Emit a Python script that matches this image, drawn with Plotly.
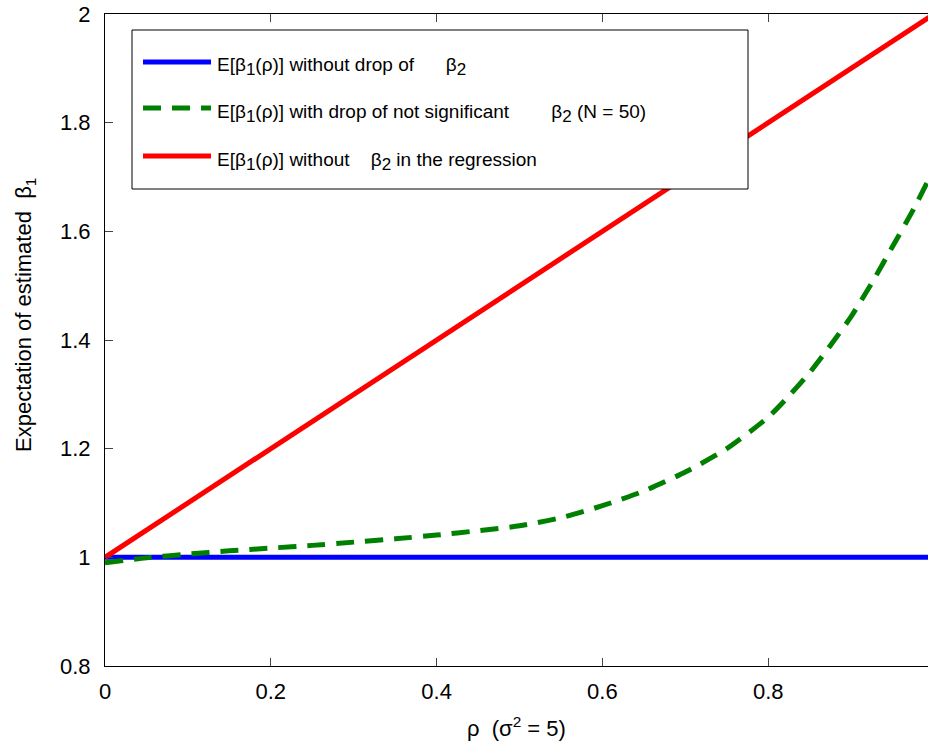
import plotly.graph_objects as go

# ---- data ----
rho = [0.0, 0.05, 0.10, 0.15, 0.20, 0.25, 0.30, 0.35, 0.40, 0.45, 0.50,
       0.55, 0.60, 0.65, 0.70, 0.75, 0.80, 0.825, 0.85, 0.875, 0.90,
       0.925, 0.95, 0.975, 1.00]
e_no_drop = [1.0] * len(rho)
e_drop_ns = [0.990, 0.999, 1.006, 1.012, 1.017, 1.022, 1.028, 1.034, 1.041,
             1.049, 1.058, 1.073, 1.095, 1.122, 1.157, 1.200, 1.258, 1.297,
             1.340, 1.390, 1.443, 1.505, 1.572, 1.640, 1.715]
e_without = [1.00, 1.05, 1.10, 1.15, 1.20, 1.25, 1.30, 1.35, 1.40, 1.45, 1.50,
             1.55, 1.60, 1.65, 1.70, 1.75, 1.80, 1.825, 1.85, 1.875, 1.90,
             1.925, 1.95, 1.975, 2.00]

SUB1 = "<sub><span style='font-size:17px'>1</span></sub>"
SUB2 = "<sub><span style='font-size:17px'>2</span></sub>"
legend_labels = [
    f"E[β{SUB1}(ρ)] without drop of      β{SUB2}",
    f"E[β{SUB1}(ρ)] with drop of not significant        β{SUB2} (N = 50)",
    f"E[β{SUB1}(ρ)] without    β{SUB2} in the regression",
]
x_ticks = [0, 0.2, 0.4, 0.6, 0.8]
y_ticks = [0.8, 1.0, 1.2, 1.4, 1.6, 1.8, 2.0]

colors = ["#0000ff", "#008000", "#ff0000"]
dashes = ["solid", "18px,11px", "solid"]
series = [e_no_drop, e_drop_ns, e_without]
shapes_ = ["linear", "spline", "linear"]

FONT = "Liberation Sans, Arial, sans-serif"

fig = go.Figure()
for ys, c, d, s in zip(series, colors, dashes, shapes_):
    fig.add_trace(go.Scatter(x=rho, y=ys, mode="lines",
                             line=dict(color=c, width=5, dash=d, shape=s,
                                       smoothing=0.6 if s == "spline" else None),
                             showlegend=False, hoverinfo="skip"))

W, H = 928, 747
L, R, T, B = 105, 0, 14, 81
pw, ph = W - L - R, H - T - B


def px(xp):
    return (xp - L) / pw


def py(yp):
    return (H - B - yp) / ph


shapes = []
annotations = []
# custom legend box
shapes.append(dict(type="rect", xref="paper", yref="paper",
                   x0=px(132), x1=px(748), y0=py(189), y1=py(30),
                   line=dict(color="black", width=1), fillcolor="white",
                   layer="above"))
rows = [62, 108, 156]
for yrow, lab, c, d in zip(rows, legend_labels, colors, dashes):
    shapes.append(dict(type="line", xref="paper", yref="paper",
                       x0=px(143), x1=px(211), y0=py(yrow), y1=py(yrow),
                       line=dict(color=c, width=5, dash=d), layer="above"))
    annotations.append(dict(text=lab, xref="paper", yref="paper",
                            x=px(215), y=py(yrow + 5), xanchor="left",
                            yanchor="middle", showarrow=False,
                            font=dict(family=FONT, size=19, color="black")))

annotations.append(dict(text="Expectation of estimated  β<sub>1</sub>",
                        xref="paper", yref="paper", x=px(25), y=py(315),
                        xanchor="center", yanchor="middle", textangle=-90,
                        showarrow=False,
                        font=dict(family=FONT, size=22, color="black")))
annotations.append(dict(text="ρ  (σ<sup>2</sup> = 5)",
                        xref="paper", yref="paper", x=px(516), y=py(727),
                        xanchor="center", yanchor="middle",
                        showarrow=False,
                        font=dict(family=FONT, size=22, color="black")))

fig.update_layout(
    width=W, height=H, autosize=False,
    margin=dict(l=L, r=R, t=T, b=B, pad=0),
    paper_bgcolor="white", plot_bgcolor="white",
    shapes=shapes, annotations=annotations,
    font=dict(family=FONT, size=22, color="black"),
    xaxis=dict(range=[0, pw / 829.0], tickvals=x_ticks,
               ticktext=[f"{v:g}" for v in x_ticks],
               showgrid=False, zeroline=False, showline=True,
               linecolor="black", linewidth=1, mirror="ticks",
               ticks="inside", ticklen=8, tickcolor="#444",
               ticklabelstandoff=6,
               tickfont=dict(family=FONT, size=22, color="black")),
    yaxis=dict(range=[0.8, 2.0], tickvals=y_ticks,
               ticktext=[f"{v:g}" for v in y_ticks],
               showgrid=False, zeroline=False, showline=True,
               linecolor="black", linewidth=1, mirror=False,
               ticks="inside", ticklen=8, tickcolor="#444",
               ticklabelstandoff=9,
               tickfont=dict(family=FONT, size=22, color="black")),
)

fig.write_html(
    "out.html",
    config={"displayModeBar": False},
    post_script="document.body.style.margin='0';"
                "document.body.style.overflow='hidden';"
                "document.documentElement.style.overflow='hidden';",
)
